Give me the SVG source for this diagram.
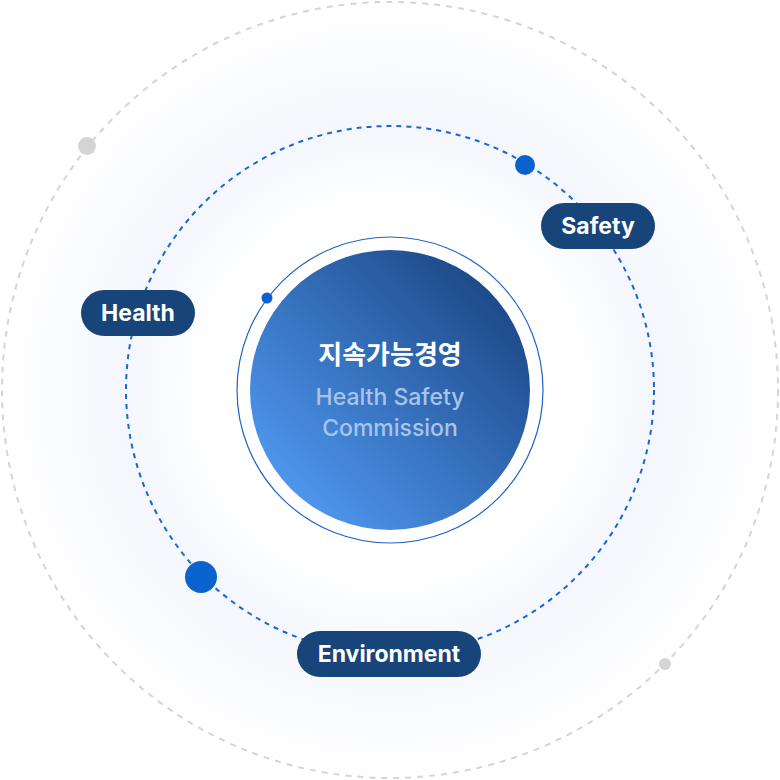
<svg xmlns="http://www.w3.org/2000/svg" width="780" height="780" viewBox="0 0 780 780">
<defs>
<radialGradient id="glow" cx="390" cy="390" r="388" gradientUnits="userSpaceOnUse">
<stop offset="0" stop-color="#ffffff"/>
<stop offset="0.48" stop-color="#ffffff"/>
<stop offset="0.68" stop-color="#f4f7fd"/>
<stop offset="0.85" stop-color="#fafbfe"/>
<stop offset="1" stop-color="#ffffff"/>
</radialGradient>
<linearGradient id="core" x1="0.15" y1="0.85" x2="0.85" y2="0.15">
<stop offset="0" stop-color="#4d95ec"/>
<stop offset="1" stop-color="#1e4b8b"/>
</linearGradient>
<style>
.pill{fill:#174479}
.lbl{font-family:Inter,"Liberation Sans",sans-serif;font-weight:700;font-size:23px;fill:#ffffff;text-anchor:middle}
.ko{font-family:Inter,"Noto Sans CJK KR",sans-serif;font-weight:700;font-size:26px;fill:#ffffff;text-anchor:middle}
.sub{font-family:Inter,"Liberation Sans",sans-serif;font-weight:500;font-size:23px;fill:#a8c4ec;text-anchor:middle}
</style>
</defs>
<rect width="780" height="780" fill="#ffffff"/>
<circle cx="390" cy="390" r="388" fill="url(#glow)"/>
<g id="connectors">
<circle cx="390" cy="390" r="388" fill="none" stroke="#d2d5dc" stroke-width="2" stroke-dasharray="6 6"/>
<circle cx="390" cy="390" r="264" fill="none" stroke="#1a66d0" stroke-width="2" stroke-dasharray="5 5"/>
<circle cx="390" cy="390" r="153" fill="none" stroke="#1e63c8" stroke-width="1.2"/>
</g>
<g id="dots">
<circle cx="87" cy="146" r="9" fill="#d4d4d6"/>
<circle cx="665" cy="664" r="6" fill="#d4d4d6"/>
<circle cx="525" cy="165" r="10" fill="#0c62cd"/>
<circle cx="201" cy="577" r="16" fill="#0c62cd"/>
<circle cx="267" cy="298" r="5.5" fill="#0c62cd"/>
</g>
<g id="center">
<circle cx="390" cy="390" r="140" fill="url(#core)"/>
<text x="390" y="364" class="ko">지속가능경영</text>
<text x="390" y="405" class="sub">Health Safety</text>
<text x="390" y="436" class="sub">Commission</text>
</g>
<g id="health">
<rect x="81" y="290" width="114" height="46" rx="23" class="pill"/>
<text x="138" y="321" class="lbl">Health</text>
</g>
<g id="safety">
<rect x="541" y="203" width="114" height="46" rx="23" class="pill"/>
<text x="598" y="234" class="lbl">Safety</text>
</g>
<g id="environment">
<rect x="297" y="631" width="184" height="46" rx="23" class="pill"/>
<text x="389" y="662" class="lbl">Environment</text>
</g>
</svg>
